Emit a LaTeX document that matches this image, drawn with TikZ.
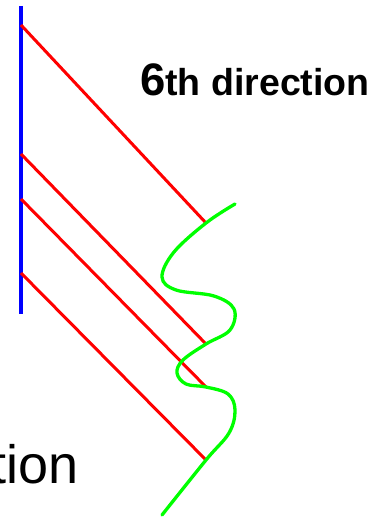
\documentclass[tikz,border=0pt]{standalone}
\usepackage{fontspec}
\setmainfont{Liberation Sans}
\begin{document}
\begin{tikzpicture}[x=1pt,y=-1pt,
  axisline/.style={draw={rgb,255:red,0;green,0;blue,255},line width=4.5pt},
  rayline/.style={draw={rgb,255:red,255;green,0;blue,0},line width=3pt},
  waveline/.style={draw={rgb,255:red,0;green,255;blue,0},line width=3.3pt,line cap=round}]
\useasboundingbox (0,0) rectangle (372,519);
\clip (0,0) rectangle (372,519);
% axis
\coordinate (ax1) at (21,6);
\coordinate (ax2) at (21,314);
\draw[axisline] (ax1) -- (ax2);
% ray starts
\coordinate (s1) at (21,25);
\coordinate (s2) at (21,154);
\coordinate (s3) at (21,199);
\coordinate (s4) at (21,273);
% ray ends on wave
\coordinate (e1) at (206,223);
\coordinate (e2) at (206,344);
\coordinate (e3) at (206,387);
\coordinate (e4) at (206,460);
\draw[rayline] (s1) -- (e1);
\draw[rayline] (s2) -- (e2);
\draw[rayline] (s3) -- (e3);
\draw[rayline] (s4) -- (e4);
% wave
\draw[waveline] plot[smooth,tension=0.6] coordinates {
  (235,204) (206,223) (174,252) (162,277) (176,290) (214,296) (234,309)
  (230,330) (206,344) (183,360) (177,373) (186,384) (206,387) (228,394)
  (235,410) (229,433) (206,460) (162,515)};
% labels
\node[anchor=base west,inner sep=0,font=\bfseries] (lab) at (140,95)
  {\fontsize{45.5}{48}\selectfont 6\fontsize{37.5}{40}\selectfont th direction};
\node[anchor=base east,inner sep=0] (lab2) at (78.7,483)
  {\fontsize{54}{60}\selectfont tion};
\end{tikzpicture}
\end{document}
